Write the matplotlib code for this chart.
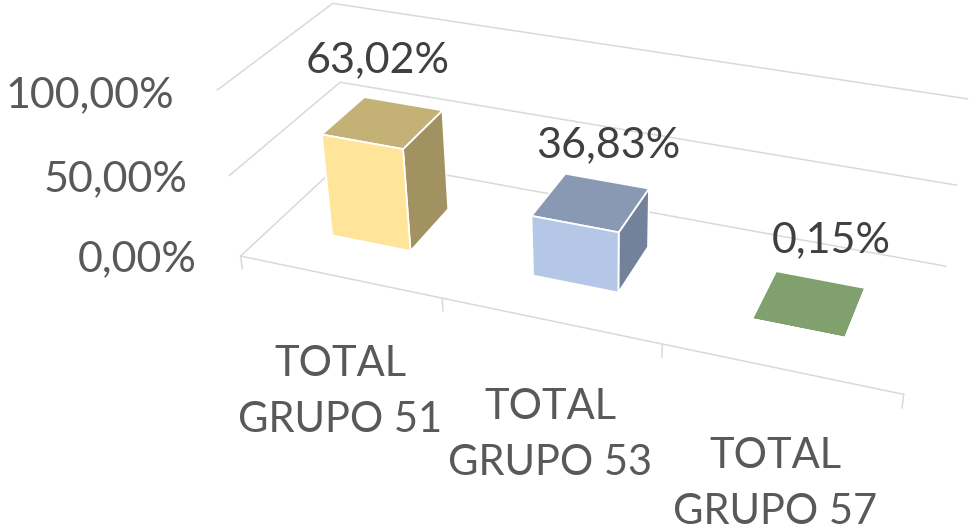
import numpy as np
import matplotlib
matplotlib.use("Agg")
import matplotlib.pyplot as plt

plt.rcParams['font.family'] = ['Lato', 'DejaVu Sans']

# ---- data ----
categories = ["TOTAL\nGRUPO 51", "TOTAL\nGRUPO 53", "TOTAL\nGRUPO 57"]
values = [63.02, 36.83, 0.15]
axis_ticks = [0, 50, 100]
front_colors = ["#FEE599", "#B4C7E7", "#A9D18E"]
top_colors = ["#C3B176", "#8A99B3", "#80A06E"]
side_colors = ["#A39261", "#72829A", "#6B8A5A"]


def pct(v):
    return f"{v:.2f}".replace(".", ",") + "%"


W, H = 969, 529
fig = plt.figure(figsize=(W / 100, H / 100), dpi=100, facecolor="white")
side = W / H
ax = fig.add_axes([0, (1 - side) / 2, 1, side], projection="3d")
ax.set_axis_off()
ax.patch.set_alpha(0)
ax.computed_zorder = False
ax.set_proj_type("ortho")

# ---- camera: calibrated against the frame of the chart (cat, depth, pct) -> pixel ----
camera_pairs = [
    ((0, 0, 0), (240.7, 256.5)), ((1, 0, 0), (441.7, 298.0)), ((2, 0, 0), (662.3, 343.3)),
    ((3, 0, 0), (904.0, 394.3)), ((0, 1, 0), (347.5, 157.0)), ((3, 1, 0), (945.7, 266.7)),
    ((0, 0, 50), (229.3, 175.7)), ((0, 1, 50), (340.0, 81.7)), ((3, 1, 50), (956.0, 185.0)),
    ((0, 0, 100), (217.7, 90.0)), ((0, 1, 100), (332.7, 3.3)), ((3, 1, 100), (967.7, 99.0)),
]
rows = []
for (X, Y, Z), (u, v) in camera_pairs:
    p = np.array([X / 3, Y, Z / 100, 1.0])
    u, v = u / 1000, v / 1000
    rows.append(np.r_[p, 0 * p, -u * p])
    rows.append(np.r_[0 * p, p, -v * p])
P = np.linalg.svd(np.array(rows))[2][-1].reshape(3, 4)
P = np.diag([1000.0, 1000.0, 1.0]) @ P @ np.diag([1 / 3, 1.0, 1 / 100, 1.0])
P = P / P[2, 3]


def get_proj():
    inv = ax.transData.inverted()
    (x0, y0), (x1, y1) = inv.transform([(0, 0), (1, 1)])
    ax_x, bx = x1 - x0, x0
    ay, by = y1 - y0, y0
    return np.array([
        ax_x * P[0] + bx * P[2],
        (ay * H + by) * P[2] - ay * P[1],
        [0, 1, 0, -2],
        P[2],
    ])


ax.get_proj = get_proj

# ---- frame ----
grid = "#D9D9D9"
for z in axis_ticks:
    ax.plot([0, 0, 3], [0, 1, 1], [z, z, z], color=grid, lw=1.1, zorder=1, clip_on=False)
ax.plot([0, 3], [0, 0], [0, 0], color=grid, lw=1.1, zorder=1, clip_on=False)
for i in range(len(categories) + 1):
    ax.plot([i, i], [0, 0], [0, -8], color=grid, lw=1.1, zorder=1, clip_on=False)

# ---- bars ----
clear = (0, 0, 0, 0)
bw, bd = 0.4, 0.4
for i, v in enumerate(values):
    # face order in bar3d: bottom, top, front, back, left, right
    faces = [clear, top_colors[i], front_colors[i], clear, clear, side_colors[i]]
    edges = [clear, "white", "white", clear, clear, "white"]
    ax.bar3d(i + 0.3, 0.3, 0, bw, bd, v, color=faces, shade=False,
             edgecolors=edges, linewidths=1.3, zorder=3)

ax.set_xlim(0, 3); ax.set_ylim(0, 1); ax.set_zlim(0, 100)


# ---- text ----
def put(x, y, s, color, ha="center", size=31, **kw):
    fig.text(x / W, 1 - y / H, s, color=color, ha=ha, va="center", fontsize=size, **kw)


for t, (x, y) in zip(axis_ticks, [(197, 259), (187, 179), (174, 95)]):
    put(x, y, pct(t), "#595959", ha="right")
for c, (x, y) in zip(categories, [(340, 392), (550, 435), (775, 484)]):
    put(x, y, c, "#595959", size=30, linespacing=1.6)
for v, (x, y) in zip(values, [(378, 60), (608, 145), (831, 240)]):
    put(x, y, pct(v), "#404040")

fig.savefig("out.png", dpi=100)
